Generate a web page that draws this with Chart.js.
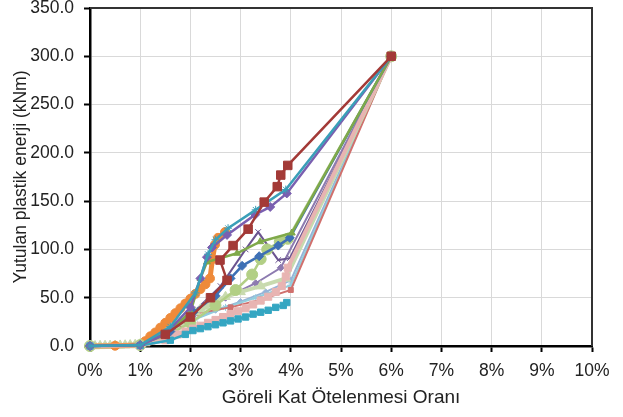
<!DOCTYPE html>
<html>
<head>
<meta charset="utf-8">
<script src="https://cdn.jsdelivr.net/npm/chart.js@4.4.1/dist/chart.umd.min.js"></script>
<style>
  html, body { margin: 0; padding: 0; background: #fff; }
  #wrap { width: 623px; height: 417px; }
</style>
</head>
<body>
<div id="wrap"><canvas id="chart" width="623" height="417"></canvas></div>
<script>
// x: göreli kat ötelenmesi (%), y: yutulan plastik enerji (kNm)
const xTicks = [0, 1, 2, 3, 4, 5, 6, 7, 8, 9, 10]
const yTicks = [0, 50, 100, 150, 200, 250, 300, 350]

// alt demet
const lightBlue = [[0, 0], [1, 0.5], [1.5, 10], [2, 26], [2.5, 37], [3, 46], [3.5, 56], [4, 68], [6, 300]]
const lightAqua = [[0, 0], [1, 0.5], [1.6, 12], [2.1, 28], [2.7, 40], [3.3, 50], [4, 63], [6, 300]]
const salmon = [[0, 0], [1, 0.5], [1.6, 12], [2.13, 34], [2.8, 40], [3.4, 48], [4, 58], [6, 300]]
const lightPurple = [[0, 0], [1, 0.5], [1.5, 10], [2.1, 34], [2.7, 50], [3.3, 65], [3.8, 81], [6, 300]]
const darkPurple = [[0, 0], [1, 0.5], [1.5, 12], [2, 32], [2.6, 62], [3.1, 100], [3.35, 118], [3.75, 89], [3.98, 91], [6, 300]]
const paleGreen = [[0, 0], [0.1, 0], [0.2, 0.2], [0.3, 0.3], [0.4, 0.4], [0.5, 0.5], [0.6, 0.6], [0.7, 0.8], [0.8, 1], [0.9, 1.3], [1, 2], [1.1, 3], [1.2, 5], [1.3, 8], [1.4, 11], [1.5, 14], [1.6, 18], [1.7, 21], [1.8, 24], [1.9, 27], [2, 31], [2.1, 35], [2.2, 38], [2.3, 41], [2.4, 44], [2.5, 47], [2.7, 51], [3, 56], [3.4, 62], [3.9, 70], [6, 300]]
const orange = [[0, 0], [0.5, 0.3], [1, 1], [1.1, 5], [1.2, 10], [1.3, 14], [1.4, 19], [1.5, 24], [1.6, 29], [1.7, 34], [1.8, 39], [1.9, 44], [2, 49], [2.1, 54], [2.2, 59], [2.3, 64], [2.39, 70], [2.44, 90], [2.49, 105], [2.55, 112], [2.69, 118]]
const lightGreenO = [[0, 0], [1, 1], [1.5, 10], [2, 24], [2.5, 42], [2.9, 58], [3.23, 74], [3.4, 90], [3.53, 100], [3.78, 108], [3.94, 111], [6, 300]]
const pink = [[0, 0], [1, 0.5], [1.5, 6], [1.6, 9], [1.75, 12], [1.9, 15], [2.05, 18], [2.2, 21], [2.35, 24], [2.5, 27], [2.65, 30], [2.8, 33], [2.95, 36], [3.1, 39], [3.25, 43], [3.4, 47], [3.55, 51], [3.7, 56], [3.82, 62], [3.9, 72], [3.94, 81], [6, 300]]
const aqua = [[0, 0], [1, 0.5], [1.6, 6], [1.9, 12], [2.05, 16], [2.2, 18], [2.35, 20], [2.5, 22], [2.65, 24], [2.8, 26], [2.95, 28], [3.1, 30], [3.25, 33], [3.4, 35], [3.55, 37], [3.7, 40], [3.85, 42], [3.92, 45]]

// üst demet
const blue = [[0, 0], [1, 1], [1.6, 15], [2.06, 35], [2.5, 52], [2.8, 70], [3.03, 83], [3.37, 93], [3.75, 104], [3.98, 112], [6, 300]]
const green = [[0, 0], [1, 1], [1.5, 12], [2, 35], [2.2, 70], [2.33, 87], [2.93, 96], [3.39, 108], [4.02, 117], [6, 300]]
const purple = [[0, 0], [1, 1], [1.5, 12], [2, 40], [2.2, 70], [2.33, 92], [2.43, 102], [2.73, 115], [3.29, 136], [3.59, 144], [3.92, 158], [6, 300]]
const teal = [[0, 0], [1, 1], [1.6, 20], [2.1, 55], [2.35, 95], [2.5, 110], [2.75, 122], [3.3, 141], [3.9, 162], [6, 300]]
const red = [[1.5, 12], [2, 30], [2.4, 50], [2.73, 68], [2.59, 89], [2.85, 104], [3.15, 121], [3.47, 149], [3.73, 165], [3.8, 177], [3.94, 187], [6, 300]]

const seriesList = [
  { data: lightBlue, color: "#95B3D7", style: "rectRot", r: 3 },
  { data: lightAqua, color: "#93CDDD", style: "star", r: 3.5 },
  { data: salmon, color: "#D0706D", style: "rect", r: 3.5 },
  { data: lightPurple, color: "#8D7BB0", style: "rectRot", r: 3.5 },
  { data: darkPurple, color: "#6B5490", style: "crossRot", r: 4 },
  { data: paleGreen, color: "#C8DAAE", style: "triangle", r: 5.5, w: 4 },
  { data: orange, color: "#EE8A3A", style: "circle", r: 4.5, w: 5 },
  { data: lightGreenO, color: "#B2CF85", style: "circle", r: 5.5, w: 2.5 },
  { data: pink, color: "#E8B4B2", style: "rect", r: 5, w: 4 },
  { data: aqua, color: "#35A6C2", style: "rect", r: 4.5, w: 2.5 },
  { data: blue, color: "#3E70B5", style: "rectRot", r: 4.5, w: 2.5 },
  { data: green, color: "#7FA94A", style: "triangle", r: 4, w: 2.5 },
  { data: purple, color: "#7A5FB0", style: "rectRot", r: 4.5, w: 2.5 },
  { data: teal, color: "#3A9FB8", style: "star", r: 4, w: 2.5 },
  { data: red, color: "#A33A37", style: "rect", r: 6, w: 2.5 },
]

const frame = {
  id: "frame",
  beforeDatasetsDraw(chart) {
    const { ctx, chartArea: a } = chart
    ctx.save()
    ctx.strokeStyle = "#333"
    ctx.lineWidth = 2
    ctx.beginPath()
    ctx.moveTo(a.left, a.top)
    ctx.lineTo(a.right, a.top)
    ctx.lineTo(a.right, a.bottom)
    ctx.stroke()
    ctx.restore()
  },
}

const n = seriesList.length
const datasets = seriesList.map((s, i) => ({
  data: s.data.map(([x, y]) => ({ x, y })),
  showLine: true,
  borderColor: s.color,
  backgroundColor: s.color,
  pointBackgroundColor: s.color,
  pointBorderColor: s.color,
  borderWidth: s.w || 2,
  pointStyle: s.style,
  pointRadius: s.r,
  pointBorderWidth: 1,
  clip: false,
  order: n - i,
}))

const font = "'Liberation Sans', Arial, sans-serif"

new Chart(document.getElementById("chart"), {
  type: "scatter",
  data: { datasets },
  plugins: [frame],
  options: {
    responsive: false,
    animation: false,
    devicePixelRatio: 1,
    layout: { padding: { top: 8, right: 31, left: 0, bottom: 0 } },
    plugins: { legend: { display: false }, tooltip: { enabled: false } },
    scales: {
      x: {
        type: "linear",
        min: 0,
        max: 10,
        afterBuildTicks: (s) => { s.ticks = xTicks.map((v) => ({ value: v })) },
        afterFit: (s) => { s.height = 71; s.paddingRight = 0; s.paddingLeft = 0 },
        ticks: { callback: (v) => v + "%", color: "#222", font: { family: font, size: 17.5 }, padding: 9, maxRotation: 0 },
        grid: { color: "#D9D9D9", tickColor: "#000", tickLength: 6, tickWidth: 2 },
        border: { color: "#000", width: 2.5 },
        title: { display: true, text: "Göreli Kat Ötelenmesi Oranı", color: "#222", font: { family: font, size: 19 }, padding: { top: 0, bottom: 8 } },
      },
      y: {
        type: "linear",
        min: 0,
        max: 350,
        afterBuildTicks: (s) => { s.ticks = yTicks.map((v) => ({ value: v })) },
        afterFit: (s) => { s.width = 90; s.paddingTop = 0; s.paddingBottom = 0 },
        ticks: { callback: (v) => v.toFixed(1), color: "#222", font: { family: font, size: 17.5 }, padding: 10 },
        grid: { color: "#D9D9D9", tickColor: "#000", tickLength: 6, tickWidth: 2 },
        border: { color: "#000", width: 2.5 },
        title: { display: true, text: "Yutulan plastik enerji (kNm)", color: "#222", font: { family: font, size: 17.5 }, padding: { top: 11, bottom: 0 } },
      },
    },
  },
})
</script>
</body>
</html>
